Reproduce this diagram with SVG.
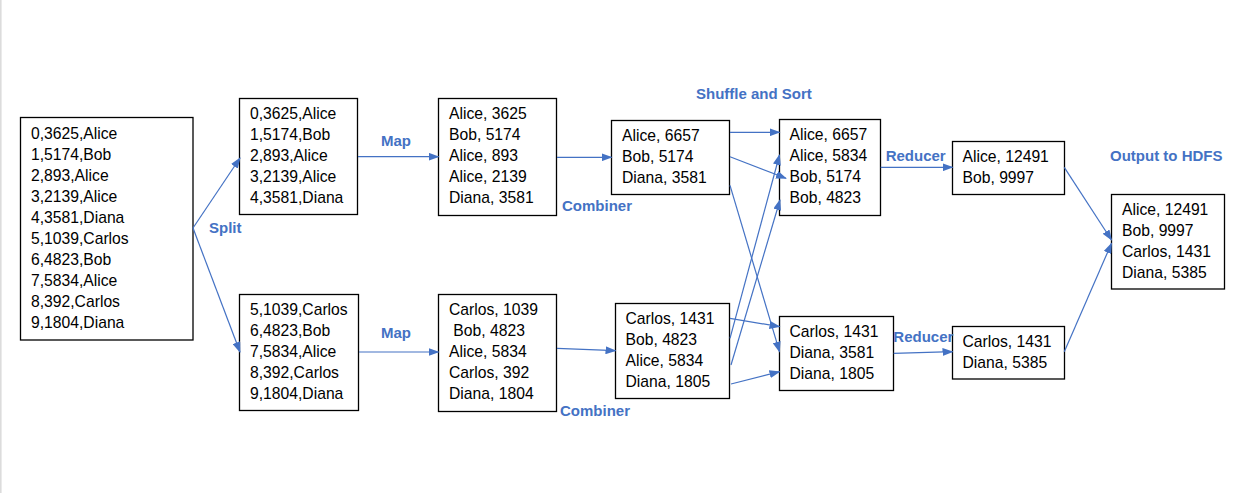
<svg xmlns="http://www.w3.org/2000/svg" width="1255" height="493" viewBox="0 0 1255 493">
<defs>
<marker id="ah" markerWidth="11" markerHeight="8" refX="10" refY="4" orient="auto" markerUnits="userSpaceOnUse">
<path d="M0,0 L11,4 L0,8 Z" fill="#4472C4"/>
</marker>
<style>
.box{fill:#fff;stroke:#000;stroke-width:1.3}
.t{font-family:"Liberation Sans",Arial,sans-serif;font-size:15.7px;fill:#000}
.lbl{font-family:"Liberation Sans",Arial,sans-serif;font-size:15px;font-weight:bold;fill:#4472C4}
.c line{stroke:#4472C4;stroke-width:1.2;marker-end:url(#ah)}
</style>
</defs>
<rect x="0" y="0" width="1255" height="493" fill="#fff"/>
<rect x="0" y="0" width="1.6" height="493" fill="#dcdcdc"/>

<g id="input">
<rect class="box" x="20.5" y="117.5" width="172.5" height="222.5"/>
<text class="t" x="31" y="138.5"><tspan x="31">0,3625,Alice</tspan><tspan x="31" dy="21">1,5174,Bob</tspan><tspan x="31" dy="21">2,893,Alice</tspan><tspan x="31" dy="21">3,2139,Alice</tspan><tspan x="31" dy="21">4,3581,Diana</tspan><tspan x="31" dy="21">5,1039,Carlos</tspan><tspan x="31" dy="21">6,4823,Bob</tspan><tspan x="31" dy="21">7,5834,Alice</tspan><tspan x="31" dy="21">8,392,Carlos</tspan><tspan x="31" dy="21">9,1804,Diana</tspan></text>
</g>

<g id="split1">
<rect class="box" x="239.5" y="98.5" width="118" height="116"/>
<text class="t" y="119"><tspan x="250">0,3625,Alice</tspan><tspan x="250" dy="21">1,5174,Bob</tspan><tspan x="250" dy="21">2,893,Alice</tspan><tspan x="250" dy="21">3,2139,Alice</tspan><tspan x="250" dy="21">4,3581,Diana</tspan></text>
</g>

<g id="split2">
<rect class="box" x="239.5" y="294.5" width="119" height="116"/>
<text class="t" y="314.5"><tspan x="250">5,1039,Carlos</tspan><tspan x="250" dy="21">6,4823,Bob</tspan><tspan x="250" dy="21">7,5834,Alice</tspan><tspan x="250" dy="21">8,392,Carlos</tspan><tspan x="250" dy="21">9,1804,Diana</tspan></text>
</g>

<g id="map1">
<rect class="box" x="438.5" y="98.5" width="118" height="117"/>
<text class="t" y="119"><tspan x="449">Alice, 3625</tspan><tspan x="449" dy="21">Bob, 5174</tspan><tspan x="449" dy="21">Alice, 893</tspan><tspan x="449" dy="21">Alice, 2139</tspan><tspan x="449" dy="21">Diana, 3581</tspan></text>
</g>

<g id="map2">
<rect class="box" x="438.5" y="294.5" width="118" height="117"/>
<text class="t" y="315"><tspan x="449">Carlos, 1039</tspan><tspan x="449" dy="21" xml:space="preserve"> Bob, 4823</tspan><tspan x="449" dy="21">Alice, 5834</tspan><tspan x="449" dy="21">Carlos, 392</tspan><tspan x="449" dy="21">Diana, 1804</tspan></text>
</g>

<g id="comb1">
<rect class="box" x="611.5" y="120.5" width="118" height="74"/>
<text class="t" y="141"><tspan x="622">Alice, 6657</tspan><tspan x="622" dy="21">Bob, 5174</tspan><tspan x="622" dy="21">Diana, 3581</tspan></text>
</g>

<g id="comb2">
<rect class="box" x="615.5" y="303.5" width="114" height="95"/>
<text class="t" y="324"><tspan x="625.5">Carlos, 1431</tspan><tspan x="625.5" dy="21">Bob, 4823</tspan><tspan x="625.5" dy="21">Alice, 5834</tspan><tspan x="625.5" dy="21">Diana, 1805</tspan></text>
</g>

<g id="shuffle1">
<rect class="box" x="779.5" y="119.5" width="101" height="96"/>
<text class="t" y="140"><tspan x="789.5">Alice, 6657</tspan><tspan x="789.5" dy="21">Alice, 5834</tspan><tspan x="789.5" dy="21">Bob, 5174</tspan><tspan x="789.5" dy="21">Bob, 4823</tspan></text>
</g>

<g id="shuffle2">
<rect class="box" x="779.5" y="316.5" width="114" height="74"/>
<text class="t" y="337"><tspan x="789.5">Carlos, 1431</tspan><tspan x="789.5" dy="21">Diana, 3581</tspan><tspan x="789.5" dy="21">Diana, 1805</tspan></text>
</g>

<g id="reduce1">
<rect class="box" x="952.5" y="141.5" width="112" height="53"/>
<text class="t" y="162"><tspan x="962.5">Alice, 12491</tspan><tspan x="962.5" dy="21">Bob, 9997</tspan></text>
</g>

<g id="reduce2">
<rect class="box" x="952.5" y="326.5" width="112" height="52.5"/>
<text class="t" y="346.5"><tspan x="962.5">Carlos, 1431</tspan><tspan x="962.5" dy="21">Diana, 5385</tspan></text>
</g>

<g id="output">
<rect class="box" x="1111.5" y="194.5" width="113" height="94.5"/>
<text class="t" y="214.5"><tspan x="1122">Alice, 12491</tspan><tspan x="1122" dy="21">Bob, 9997</tspan><tspan x="1122" dy="21">Carlos, 1431</tspan><tspan x="1122" dy="21">Diana, 5385</tspan></text>
</g>

<g id="labels">
<text class="lbl" x="209" y="233">Split</text>
<text class="lbl" x="381" y="146">Map</text>
<text class="lbl" x="381" y="338">Map</text>
<text class="lbl" x="562" y="210.6">Combiner</text>
<text class="lbl" x="560" y="416">Combiner</text>
<text class="lbl" x="696" y="98.6">Shuffle and Sort</text>
<text class="lbl" x="885.7" y="161">Reducer</text>
<text class="lbl" x="893.3" y="342">Reducer</text>
<text class="lbl" x="1110" y="161.3">Output to HDFS</text>
</g>

<g id="connectors" class="c">
<line x1="193" y1="228" x2="240" y2="158"/>
<line x1="193" y1="228" x2="240" y2="352"/>
<line x1="358" y1="156.7" x2="438.5" y2="156.7"/>
<line x1="359" y1="352" x2="438.5" y2="352"/>
<line x1="557" y1="157.3" x2="611.5" y2="157.3"/>
<line x1="557" y1="348.3" x2="615.5" y2="350.7"/>
<line x1="730" y1="132.3" x2="779.5" y2="132.3"/>
<line x1="730" y1="156.7" x2="786" y2="178.3"/>
<line x1="730" y1="185.3" x2="779.5" y2="351.7"/>
<line x1="730" y1="338.3" x2="779.5" y2="155"/>
<line x1="731" y1="365" x2="780" y2="200"/>
<line x1="730" y1="318.3" x2="779.5" y2="326.7"/>
<line x1="731" y1="384" x2="779.5" y2="371.7"/>
<line x1="880.7" y1="167.3" x2="952.5" y2="167.3"/>
<line x1="893.7" y1="353.3" x2="952.5" y2="351.7"/>
<line x1="1064.3" y1="167.3" x2="1111.5" y2="240"/>
<line x1="1064.3" y1="351.7" x2="1111.5" y2="243.3"/>
</g>
</svg>
